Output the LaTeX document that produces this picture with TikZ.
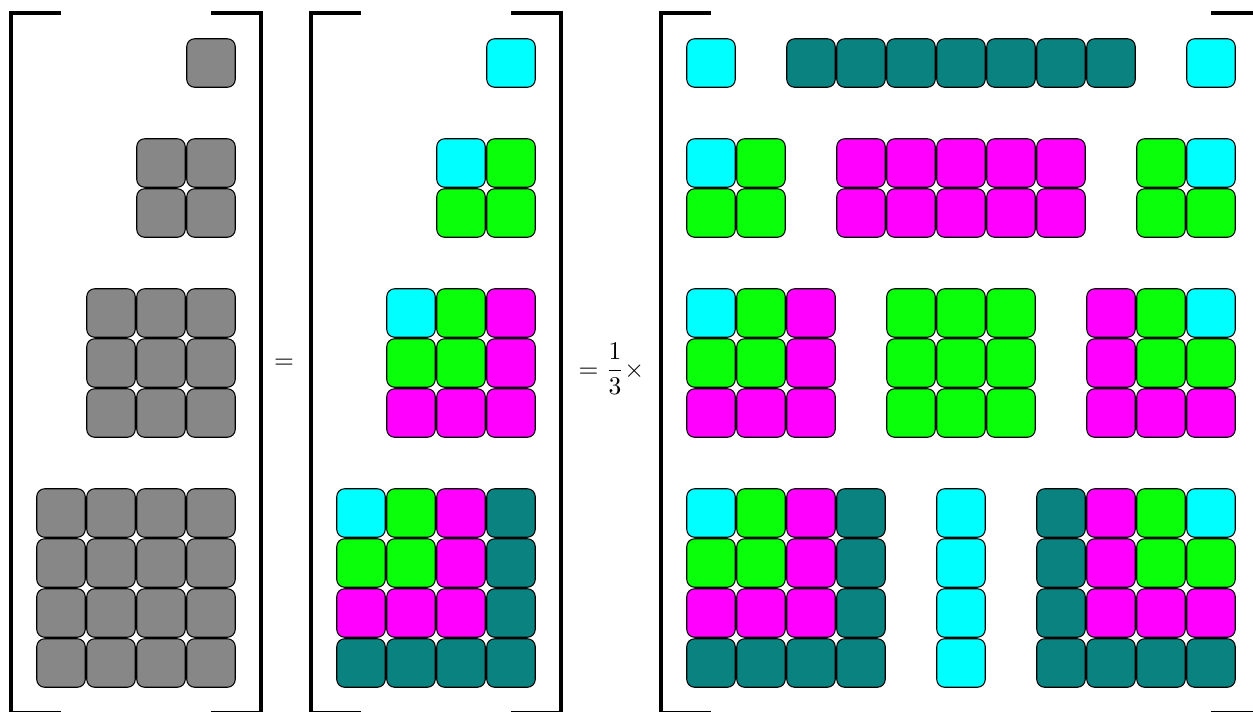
\documentclass[tikz,border=0pt]{standalone}
\usepackage{amsmath}
\usepackage{tikz}
\usetikzlibrary{positioning}

\definecolor{gy}{RGB}{135,135,135}
\definecolor{cy}{RGB}{0,255,255}
\definecolor{gr}{RGB}{10,255,10}
\definecolor{mg}{RGB}{255,0,255}
\definecolor{tl}{RGB}{10,130,128}

\tikzset{
  tile/.style={draw=black, line width=0.6pt, rounded corners=4.5pt},
  bracket/.style={line width=2.3pt},
  bigmath/.style={scale=1.45, inner sep=0pt}
}

% one row of tiles: first column, row, colours
\newcommand{\tilerow}[3]{%
  \foreach \col [count=\i from 0] in {#3}
    \draw[tile, fill=\col] ({0.735+#1+\i}, {-0.775-#2}) rectangle ++(0.97,-0.97);
}

% matrix brackets: left edge, right edge
\newcommand{\brackets}[2]{%
  \draw[bracket] ({#1+1},-0.26) -- (#1,-0.26) -- (#1,-14.26) -- ({#1+1},-14.26);
  \draw[bracket] ({#2-1},-0.26) -- (#2,-0.26) -- (#2,-14.26) -- ({#2-1},-14.26);
}

\begin{document}
\begin{tikzpicture}
  \useasboundingbox (0,0) rectangle (25.06,-14.22);
  \clip (0,0) rectangle (25.06,-14.22);

  % left matrix
  \brackets{0.22}{5.22}
  \tilerow{3}{0}{gy}
  \foreach \r in {2,3} {\tilerow{2}{\r}{gy,gy}}
  \foreach \r in {5,6,7} {\tilerow{1}{\r}{gy,gy,gy}}
  \foreach \r in {9,10,11,12} {\tilerow{0}{\r}{gy,gy,gy,gy}}

  \node[bigmath] (eqA) at (5.68,-7.28) {$=$};

  % middle matrix
  \brackets{6.22}{11.22}
  \tilerow{9}{0}{cy}
  \tilerow{8}{2}{cy,gr}
  \tilerow{8}{3}{gr,gr}
  \tilerow{7}{5}{cy,gr,mg}
  \tilerow{7}{6}{gr,gr,mg}
  \tilerow{7}{7}{mg,mg,mg}
  \tilerow{6}{9}{cy,gr,mg,tl}
  \tilerow{6}{10}{gr,gr,mg,tl}
  \tilerow{6}{11}{mg,mg,mg,tl}
  \tilerow{6}{12}{tl,tl,tl,tl}

  \node[bigmath] (eqB) at (12.23,-7.38) {$=\dfrac{1}{3}\times$};

  % right matrix
  \brackets{13.22}{25.22}
  \tilerow{13}{0}{cy}
  \tilerow{15}{0}{tl,tl,tl,tl,tl,tl,tl}
  \tilerow{23}{0}{cy}

  \tilerow{13}{2}{cy,gr}
  \tilerow{13}{3}{gr,gr}
  \foreach \r in {2,3} {\tilerow{16}{\r}{mg,mg,mg,mg,mg}}
  \tilerow{22}{2}{gr,cy}
  \tilerow{22}{3}{gr,gr}

  \tilerow{13}{5}{cy,gr,mg}
  \tilerow{13}{6}{gr,gr,mg}
  \tilerow{13}{7}{mg,mg,mg}
  \foreach \r in {5,6,7} {\tilerow{17}{\r}{gr,gr,gr}}
  \tilerow{21}{5}{mg,gr,cy}
  \tilerow{21}{6}{mg,gr,gr}
  \tilerow{21}{7}{mg,mg,mg}

  \tilerow{13}{9}{cy,gr,mg,tl}
  \tilerow{13}{10}{gr,gr,mg,tl}
  \tilerow{13}{11}{mg,mg,mg,tl}
  \tilerow{13}{12}{tl,tl,tl,tl}
  \foreach \r in {9,10,11,12} {\tilerow{18}{\r}{cy}}
  \tilerow{20}{9}{tl,mg,gr,cy}
  \tilerow{20}{10}{tl,mg,gr,gr}
  \tilerow{20}{11}{tl,mg,mg,mg}
  \tilerow{20}{12}{tl,tl,tl,tl}
\end{tikzpicture}
\end{document}
